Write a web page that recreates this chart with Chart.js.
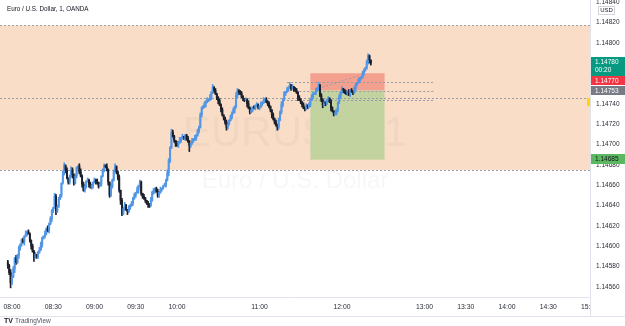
<!DOCTYPE html>
<html><head><meta charset="utf-8">
<script src="https://cdn.jsdelivr.net/npm/chart.js@4/dist/chart.umd.min.js"></script>
<style>html,body{margin:0;padding:0;background:#fff;}#wrap{width:625px;height:326px;position:relative}</style>
</head><body><div id="wrap"><canvas id="c" width="625" height="326"></canvas></div>
<script>
// ---- data (minutes counted from 08:00, 1-minute EUR/USD candles) ----
const startMinute = -3;
const firstOpen = 1.14584;
const closes = [
1.14581,1.14574,1.14564,1.14570,1.14578,1.14588,1.14584,1.14591,1.14598,1.14602,
1.14606,1.14604,1.14610,1.14612,1.14614,1.14612,1.14606,1.14600,1.14595,1.14589,
1.14592,1.14590,1.14594,1.14596,1.14602,1.14608,1.14610,1.14613,1.14617,1.14615,
1.14622,1.14627,1.14635,1.14638,1.14649,1.14635,1.14639,1.14646,1.14650,1.14662,
1.14672,1.14679,1.14675,1.14667,1.14663,1.14669,1.14675,1.14670,1.14662,1.14669,
1.14677,1.14679,1.14673,1.14669,1.14661,1.14655,1.14659,1.14664,1.14665,1.14661,
1.14658,1.14660,1.14663,1.14665,1.14663,1.14662,1.14659,1.14661,1.14669,1.14675,
1.14679,1.14678,1.14675,1.14663,1.14650,1.14659,1.14665,1.14673,1.14678,1.14673,
1.14668,1.14655,1.14645,1.14632,1.14637,1.14640,1.14636,1.14634,1.14638,1.14640,
1.14642,1.14647,1.14650,1.14653,1.14655,1.14659,1.14663,1.14652,1.14649,1.14647,
1.14645,1.14642,1.14641,1.14640,1.14645,1.14653,1.14655,1.14657,1.14654,1.14650,
1.14653,1.14656,1.14657,1.14659,1.14660,1.14665,1.14672,1.14684,1.14697,1.14712,
1.14708,1.14704,1.14701,1.14699,1.14702,1.14704,1.14706,1.14708,1.14707,1.14709,
1.14706,1.14703,1.14699,1.14701,1.14704,1.14705,1.14706,1.14709,1.14713,1.14717,
1.14729,1.14736,1.14738,1.14740,1.14742,1.14744,1.14744,1.14746,1.14751,1.14756,
1.14753,1.14750,1.14746,1.14743,1.14739,1.14734,1.14729,1.14726,1.14722,1.14717,
1.14720,1.14724,1.14727,1.14731,1.14734,1.14737,1.14748,1.14753,1.14751,1.14750,
1.14747,1.14745,1.14744,1.14744,1.14740,1.14736,1.14732,1.14734,1.14737,1.14736,
1.14738,1.14739,1.14737,1.14737,1.14740,1.14741,1.14743,1.14744,1.14742,1.14740,
1.14737,1.14734,1.14729,1.14725,1.14722,1.14719,1.14717,1.14724,1.14732,1.14739,
1.14744,1.14750,1.14752,1.14754,1.14756,1.14758,1.14755,1.14757,1.14755,1.14753,
1.14751,1.14746,1.14744,1.14742,1.14739,1.14736,1.14735,1.14738,1.14737,1.14739,
1.14744,1.14747,1.14750,1.14751,1.14753,1.14755,1.14758,1.14748,1.14744,1.14739,
1.14741,1.14740,1.14744,1.14745,1.14742,1.14736,1.14733,1.14730,1.14731,1.14734,
1.14741,1.14747,1.14751,1.14755,1.14753,1.14751,1.14750,1.14752,1.14749,1.14753,
1.14752,1.14751,1.14755,1.14759,1.14761,1.14763,1.14765,1.14766,1.14770,1.14773,
1.14775,1.14781,1.14787,1.14783,1.14780];
// wick lengths beyond the candle body, in 0.00001 units
const upperWick = [
2,1,3,0,2,1,3,1,2,0, 1,2,0,3,1,2,1,0,2,1, 2,0,1,3,2,1,0,2,1,3, 1,2,1,0,3,2,1,2,1,0,
2,3,1,2,0,1,3,2,1,2, 1,0,2,3,1,2,1,0,2,1, 2,1,0,2,1,3,1,2,0,1, 2,1,3,1,0,2,1,2,3,1,
1,2,0,2,1,3,1,0,2,1, 2,1,2,0,3,1,2,1,0,2, 1,0,2,1,3,1,2,0,1,2, 1,2,0,1,2,1,3,2,1,3,
2,1,0,2,1,3,1,2,0,1, 1,2,1,0,2,1,3,1,2,1, 2,1,0,2,1,2,1,3,1,3, 1,2,0,1,2,1,2,0,1,2,
1,0,2,1,2,1,3,2,1,2, 2,1,0,2,1,3,1,2,0,1, 1,2,1,0,2,1,3,1,2,1, 2,1,0,2,1,2,1,2,1,3,
1,2,0,2,1,3,1,2,0,1, 2,1,2,1,0,2,1,2,1,2, 1,2,1,0,2,1,3,1,2,1, 2,1,0,2,1,2,1,0,2,1,
1,2,1,2,0,1,2,1,2,1, 2,1,2,1,0,2,1,1,2,1, 1,2,2,1,0];
const lowerWick = [
3,2,5,2,1,4,2,1,3,2, 2,1,3,1,2,0,2,3,1,4, 1,2,2,1,0,3,1,2,2,1, 2,1,3,2,1,4,2,1,0,2,
1,2,3,1,2,2,1,3,2,1, 2,1,2,1,3,1,2,2,1,3, 1,2,3,1,2,1,2,0,2,1, 2,1,1,3,2,1,2,1,0,2,
3,2,4,2,1,2,1,3,1,2, 1,2,1,2,1,3,1,2,2,1, 2,1,3,2,1,1,2,3,1,2, 2,1,2,1,0,2,1,3,2,1,
1,2,3,1,2,1,2,1,2,3, 2,1,6,2,1,2,1,2,1,2, 1,2,1,2,3,1,2,1,2,1, 2,1,2,3,1,2,1,2,2,3,
2,1,1,2,1,3,1,2,2,1, 1,2,2,1,3,1,2,1,2,1, 2,1,2,3,1,2,1,2,1,2, 1,2,3,1,2,1,3,2,1,2,
2,1,2,1,2,1,2,1,3,1, 1,3,1,2,2,1,2,1,2,1, 2,1,2,1,2,1,2,1,2,3, 1,2,1,2,1,3,1,2,1,2,
2,1,2,1,2,1,1,2,1,2, 1,2,1,2,1,1,2,1,1,2, 1,1,2,3,2];
const timeTicks = [0,30,60,90,120,180,240,300,330,360,390,420];
const priceTicks = [1.1456,1.1458,1.1460,1.1462,1.1464,1.1466,1.1468,1.1470,1.1472,1.1474,1.1476,1.1478,1.1480,1.1482,1.1484];
const rangeTop = 1.14817, rangeBottom = 1.14675;
const levelLine = 1.14746;
const posStart = 217, posEnd = 271;
const stopPrice = 1.14770, entryPrice = 1.14753, targetPrice = 1.14685;
const lastPrice = 1.14780;
const countdown = "00:20";
const guideLines = [
  {m1:200, m2:307, p1:1.14761, p2:1.14761},
  {m1:209, m2:307, p1:1.14753, p2:1.14753},
  {m1:200, m2:307, p1:1.14744, p2:1.14744},
  {m1:223, m2:253, p1:1.14755, p2:1.14768}
];
const titleText = "Euro / U.S. Dollar, 1, OANDA";
const wmSymbol = "EURUSD, 1";
const wmName = "Euro / U.S. Dollar";

// ---- build candles ----
const pip = 0.00001;
const candles = closes.map((c, i) => {
  const o = i === 0 ? firstOpen : closes[i - 1];
  return {x: startMinute + i, o, c,
    h: Math.max(o, c) + upperWick[i] * pip,
    l: Math.min(o, c) - lowerWick[i] * pip};
});
const upCol = '#5296e6', downCol = '#1c202b';
const colors = candles.map(k => k.c >= k.o ? upCol : downCol);
const fmtMin = m => { const h = 8 + Math.floor(m / 60), mm = ((m % 60) + 60) % 60;
  return String(h).padStart(2, '0') + ':' + String(mm).padStart(2, '0'); };
const FONT = "'Liberation Sans', Arial, sans-serif";
Chart.defaults.font.family = FONT;

const overlay = {
  id: 'overlay',
  beforeDraw(chart) {
    const {ctx, chartArea: a, scales: {x, y}} = chart;
    ctx.save();
    ctx.fillStyle = '#f9ddc7';
    const yt = y.getPixelForValue(rangeTop), yb = y.getPixelForValue(rangeBottom);
    ctx.fillRect(a.left, yt, a.right - a.left, yb - yt);
    ctx.fillStyle = 'rgba(60,60,70,0.045)';
    ctx.textAlign = 'center'; ctx.textBaseline = 'alphabetic';
    ctx.font = "42px " + FONT;
    ctx.fillText(wmSymbol, (a.left + a.right) / 2, 146);
    ctx.font = "24px " + FONT;
    ctx.fillText(wmName, (a.left + a.right) / 2, 188);
    const xs = x.getPixelForValue(posStart), xe = x.getPixelForValue(posEnd);
    const ys = y.getPixelForValue(stopPrice), ye = y.getPixelForValue(entryPrice), yg = y.getPixelForValue(targetPrice);
    ctx.fillStyle = '#f4a08f';
    ctx.fillRect(xs, ys, xe - xs, ye - ys);
    ctx.fillStyle = '#c2d3a0';
    ctx.fillRect(xs, ye, xe - xs, yg - ye);
    ctx.strokeStyle = '#9a9ca6'; ctx.lineWidth = 1; ctx.setLineDash([2, 2]);
    [rangeTop, levelLine, rangeBottom].forEach(p => {
      const yy = Math.round(y.getPixelForValue(p)) + 0.5;
      ctx.beginPath(); ctx.moveTo(a.left, yy); ctx.lineTo(a.right, yy); ctx.stroke();
    });
    guideLines.forEach(g => {
      ctx.beginPath();
      ctx.moveTo(x.getPixelForValue(g.m1), Math.round(y.getPixelForValue(g.p1)) + 0.5);
      ctx.lineTo(x.getPixelForValue(g.m2), Math.round(y.getPixelForValue(g.p2)) + 0.5);
      ctx.stroke();
    });
    ctx.restore();
  },
  afterDraw(chart) {
    const {ctx, chartArea: a} = chart;
    ctx.save();
    ctx.fillStyle = '#fff';
    ctx.fillRect(a.right + 1, a.bottom + 1, 625 - a.right, 18);
    ctx.fillStyle = '#131722'; ctx.font = "6.3px " + FONT;
    ctx.textAlign = 'left'; ctx.textBaseline = 'middle';
    ctx.fillText(titleText, 7, 9);
    ctx.fillStyle = '#fff'; ctx.fillRect(598, 6, 17, 9);
    ctx.strokeStyle = '#d1d4dc'; ctx.lineWidth = 1; ctx.strokeRect(598.5, 6.5, 16, 8);
    ctx.fillStyle = '#131722'; ctx.font = "6px " + FONT; ctx.textAlign = 'center';
    ctx.fillText('USD', 606.5, 10.7);
    const tag = (y0, h, bg, fg, lines) => {
      ctx.fillStyle = bg; ctx.fillRect(a.right + 1, y0, 625 - a.right - 1, h);
      ctx.fillStyle = fg; ctx.font = "6.5px " + FONT; ctx.textAlign = 'left';
      lines.forEach((t, i) => ctx.fillText(t, a.right + 5, y0 + 5 + i * 8));
    };
    tag(57, 19, '#089981', '#fff', [lastPrice.toFixed(5), countdown]);
    tag(76, 9, '#f23645', '#fff', [stopPrice.toFixed(5)]);
    tag(86, 9, '#787b86', '#fff', [entryPrice.toFixed(5)]);
    tag(154, 10, '#5cb860', '#131722', [targetPrice.toFixed(5)]);
    ctx.fillStyle = '#ffd600'; ctx.fillRect(a.right - 3, 98, 3, 8);
    ctx.strokeStyle = '#e0e3eb'; ctx.lineWidth = 1;
    ctx.beginPath(); ctx.moveTo(a.right + 0.5, 0); ctx.lineTo(a.right + 0.5, 316); ctx.stroke();
    ctx.beginPath(); ctx.moveTo(0, 316.5); ctx.lineTo(625, 316.5); ctx.stroke();
    ctx.fillStyle = '#131722'; ctx.font = "bold 7px " + FONT; ctx.textAlign = 'left';
    ctx.fillText('TV', 4, 321.5);
    ctx.fillStyle = '#50535e'; ctx.font = "6.5px " + FONT;
    ctx.fillText('TradingView', 15, 321.5);
    ctx.restore();
  }
};

new Chart(document.getElementById('c'), {
  type: 'bar',
  data: {
    datasets: [
      {data: candles.map(k => ({x: k.x, y: [k.l, k.h]})), backgroundColor: colors,
       barThickness: 1, grouped: false, order: 2},
      {data: candles.map(k => ({x: k.x, y: [Math.min(k.o, k.c), Math.max(k.o, k.c)]})), backgroundColor: colors,
       barThickness: 1.3, grouped: false, minBarLength: 1, order: 1}
    ]
  },
  options: {
    responsive: false, animation: false, devicePixelRatio: 1,
    layout: {padding: {left: 0, right: 0, top: 0, bottom: 14}},
    plugins: {legend: {display: false}, tooltip: {enabled: false}},
    scales: {
      x: {type: 'linear', min: -8.7, max: 420.4, offset: false,
        grid: {display: false, drawTicks: false},
        border: {display: true, color: '#e0e3eb'},
        afterBuildTicks: s => { s.ticks = timeTicks.map(v => ({value: v})); },
        afterFit: s => { s.height = 15; s.paddingLeft = 0; s.paddingRight = 0; },
        ticks: {autoSkip: false, maxRotation: 0, padding: 6, color: '#2a2e39', font: {size: 6.8},
          callback: v => fmtMin(v)}},
      y: {position: 'right', min: 1.14550, max: 1.14842,
        grid: {display: false, drawTicks: false},
        border: {display: true, color: '#e0e3eb'},
        afterBuildTicks: s => { s.ticks = priceTicks.map(v => ({value: v})); },
        afterFit: s => { s.width = 35; s.paddingTop = 0; s.paddingBottom = 0; },
        ticks: {padding: 6, color: '#2a2e39', font: {size: 6.5}, callback: v => v.toFixed(5)}}
    }
  },
  plugins: [overlay]
});
</script></body></html>
